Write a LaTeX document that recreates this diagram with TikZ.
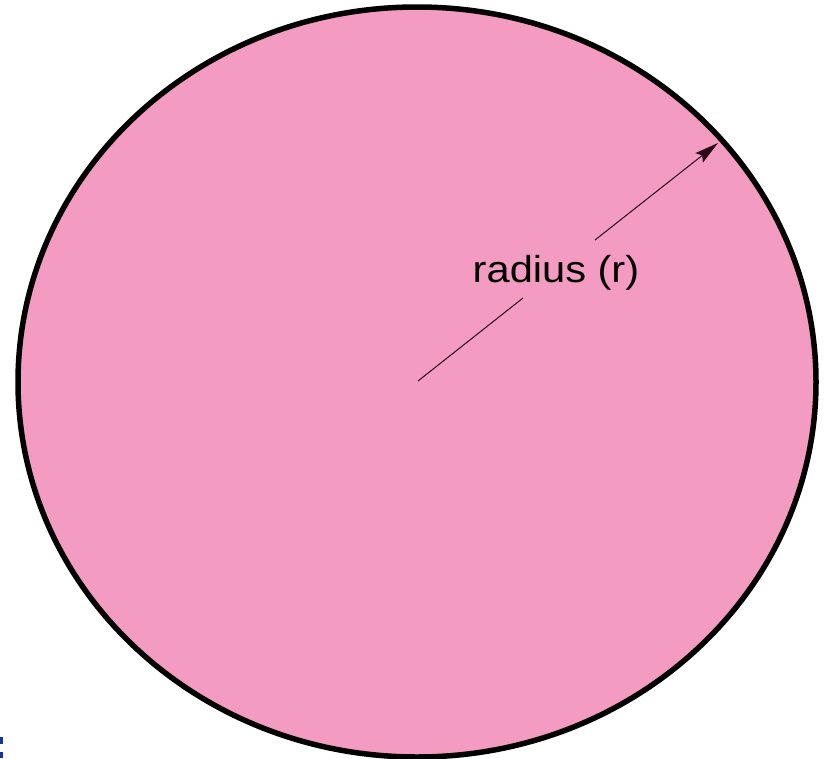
\documentclass[tikz,border=0pt]{standalone}
\usepackage{fontspec}
\setmainfont{Liberation Sans}
\usetikzlibrary{arrows.meta}
\definecolor{pinkfill}{RGB}{243,155,192}
\definecolor{markblue}{RGB}{20,50,170}
\definecolor{radline}{RGB}{40,10,25}
\begin{document}
\begin{tikzpicture}[x=1pt,y=-1pt,
  rim/.style={line width=5.5pt, draw=black, fill=pinkfill},
  radseg/.style={draw=radline, line width=1pt},
  lbl/.style={font=\fontsize{37.5}{40}\selectfont, text=black, inner sep=0pt, anchor=base}]
\useasboundingbox (0,0) rectangle (827,758);
\draw[rim] (417,382) ellipse [x radius=399, y radius=375];
\coordinate (c) at (418,381);
\coordinate (g1) at (523,298);
\coordinate (g2) at (595,240);
\coordinate (tip) at (718,143);
\draw[radseg] (c) -- (g1);
\draw[radseg, -{Stealth[length=24pt,width=12pt,inset=4pt]}] (g2) -- (tip);
\node[lbl, xscale=1.11] (label) at (556,282) {radius (r)};
\fill[markblue] (0,737) rectangle (3,744);
\fill[markblue] (0,752) rectangle (3,758);
\end{tikzpicture}
\end{document}
